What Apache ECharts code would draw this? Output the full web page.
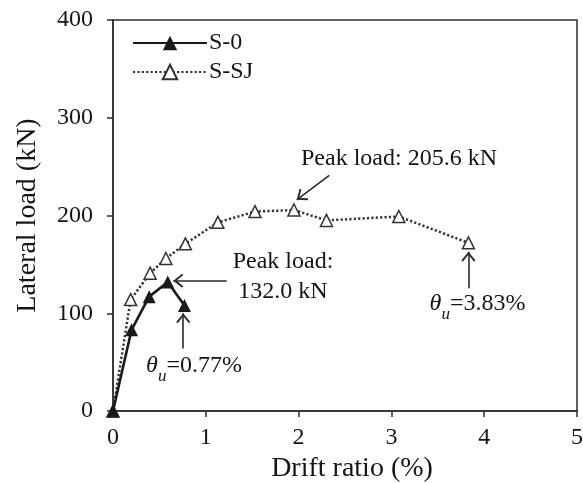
<!DOCTYPE html>
<html>
<head>
<meta charset="utf-8">
<script src="https://cdn.jsdelivr.net/npm/echarts@6/dist/echarts.min.js"></script>
<style>
  html, body { margin: 0; padding: 0; background: #fff; }
  #chart { width: 583px; height: 483px; }
</style>
</head>
<body>
<div id="chart"></div>
<script>
// Specimen S-0 (reference): drift ratio (%) and lateral load (kN)
const driftS0 = [0, 0.20, 0.39, 0.59, 0.77];
const loadS0 = [0, 83, 117, 132.0, 108];

// Specimen S-SJ
const driftSJ = [0, 0.19, 0.40, 0.57, 0.78, 1.13, 1.53, 1.95, 2.30, 3.08, 3.83];
const loadSJ = [0, 114, 141, 156, 171, 193, 204, 205.6, 195, 199, 172];

// Axis ticks
const xTicks = [0, 1, 2, 3, 4, 5];
const yTicks = [0, 100, 200, 300, 400];

const seriesNames = ['S-0', 'S-SJ'];

// Annotation arrows (tail -> head) in data coordinates
const arrows = [
  { from: [2.33, 241], to: [1.98, 216] },
  { from: [1.225, 133.3], to: [0.65, 133.3] },
  { from: [0.757, 64], to: [0.757, 100] },
  { from: [3.83, 125.5], to: [3.83, 163] }
];

// Annotation texts, centred on the given data coordinate
const notes = [
  { at: [3.082, 258.5], text: 'Peak load: 205.6 kN' },
  { at: [1.832, 137.0], text: 'Peak load:\n132.0 kN' },
  { at: [0.873, 45], text: '{th|θ}{sub|u}{n|=0.77%}' },
  { at: [3.928, 108.5], text: '{th|θ}{sub|u}{n|=3.83%}' }
];

const FONT = '"Liberation Serif", "Times New Roman", serif';
const INK = '#151515';
const LINE = '#2e2e2e';

// Open chevron arrow head; the extra move-to keeps the tip at the symbol centre
const arrowHead = 'path://M7,0L14,8.6L12.6,9.9L7,3L1.4,9.9L0,8.6ZM7,-10';

const chart = echarts.init(document.getElementById('chart'), null, { renderer: 'canvas' });

const pairs = (xs, ys) => xs.map((x, i) => [x, ys[i]]);

chart.setOption({
  animation: false,
  backgroundColor: '#fff',
  textStyle: { fontFamily: FONT, color: INK },
  grid: {
    left: 113, right: 6, top: 20, bottom: 72,
    outerBoundsMode: 'none',
    containLabel: false,
    show: true, borderColor: LINE, borderWidth: 1.5, backgroundColor: 'transparent'
  },
  legend: {
    data: seriesNames,
    orient: 'vertical',
    left: 127, top: 26,
    itemWidth: 74, itemHeight: 18, itemGap: 5,
    textStyle: { fontFamily: FONT, fontSize: 24, color: INK, padding: [0, 0, 0, -3] },
    selectedMode: false
  },
  xAxis: {
    type: 'value',
    min: xTicks[0], max: xTicks[xTicks.length - 1], interval: xTicks[1] - xTicks[0],
    name: 'Drift ratio (%)',
    nameLocation: 'middle', nameGap: 36,
    nameTextStyle: { fontFamily: FONT, fontSize: 28, color: INK, padding: [0, 0, 0, 14] },
    axisLine: { show: true, lineStyle: { color: LINE, width: 1.5 } },
    axisTick: { show: true, inside: false, length: 6, lineStyle: { color: LINE, width: 1.5 } },
    axisLabel: { fontFamily: FONT, fontSize: 24, color: INK, margin: 15 },
    splitLine: { show: false }
  },
  yAxis: {
    type: 'value',
    min: yTicks[0], max: yTicks[yTicks.length - 1], interval: yTicks[1] - yTicks[0],
    name: 'Lateral load (kN)',
    nameLocation: 'middle', nameGap: 71,
    nameTextStyle: { fontFamily: FONT, fontSize: 28, color: INK },
    axisLine: { show: true, lineStyle: { color: LINE, width: 1.5 } },
    axisTick: { show: true, inside: false, length: 6, lineStyle: { color: LINE, width: 1.5 } },
    axisLabel: { fontFamily: FONT, fontSize: 24, color: INK, margin: 20 },
    splitLine: { show: false }
  },
  series: [
    {
      name: 'S-SJ',
      type: 'line',
      data: pairs(driftSJ, loadSJ),
      symbol: 'triangle',
      symbolSize: 12,
      showAllSymbol: true,
      lineStyle: { color: '#333', width: 2.5, type: [2.2, 2.2] },
      itemStyle: { color: '#fff', borderColor: '#333', borderWidth: 1.5 },
      z: 2
    },
    {
      name: 'S-0',
      type: 'line',
      data: pairs(driftS0, loadS0),
      symbol: 'triangle',
      symbolSize: 13,
      showAllSymbol: true,
      lineStyle: { color: '#1a1a1a', width: 2.6, type: 'solid' },
      itemStyle: { color: '#1a1a1a', borderColor: '#1a1a1a', borderWidth: 0 },
      z: 3,
      markLine: {
        silent: true,
        animation: false,
        symbol: ['none', arrowHead],
        symbolSize: [14, 20],
        lineStyle: { color: '#2a2a2a', width: 1.6, type: 'solid' },
        label: { show: false },
        emphasis: { disabled: true },
        data: arrows.map(a => [{ coord: a.from }, { coord: a.to }])
      },
      markPoint: {
        silent: true,
        animation: false,
        symbol: 'rect',
        symbolSize: 1,
        itemStyle: { color: 'rgba(0,0,0,0)' },
        label: {
          show: true,
          position: 'inside',
          align: 'center',
          verticalAlign: 'middle',
          fontFamily: FONT,
          fontSize: 24,
          lineHeight: 30,
          color: INK,
          rich: {
            th: { fontFamily: FONT, fontSize: 24, fontStyle: 'italic', color: INK, lineHeight: 26, verticalAlign: 'top' },
            n: { fontFamily: FONT, fontSize: 24, color: INK, lineHeight: 26, verticalAlign: 'top' },
            sub: { fontFamily: FONT, fontSize: 17, fontStyle: 'italic', color: INK, lineHeight: 16, padding: [14, 0, 0, 0], verticalAlign: 'top' }
          }
        },
        data: notes.map(n => ({ coord: n.at, value: 0, label: { formatter: n.text } }))
      }
    }
  ]
});
</script>
</body>
</html>
